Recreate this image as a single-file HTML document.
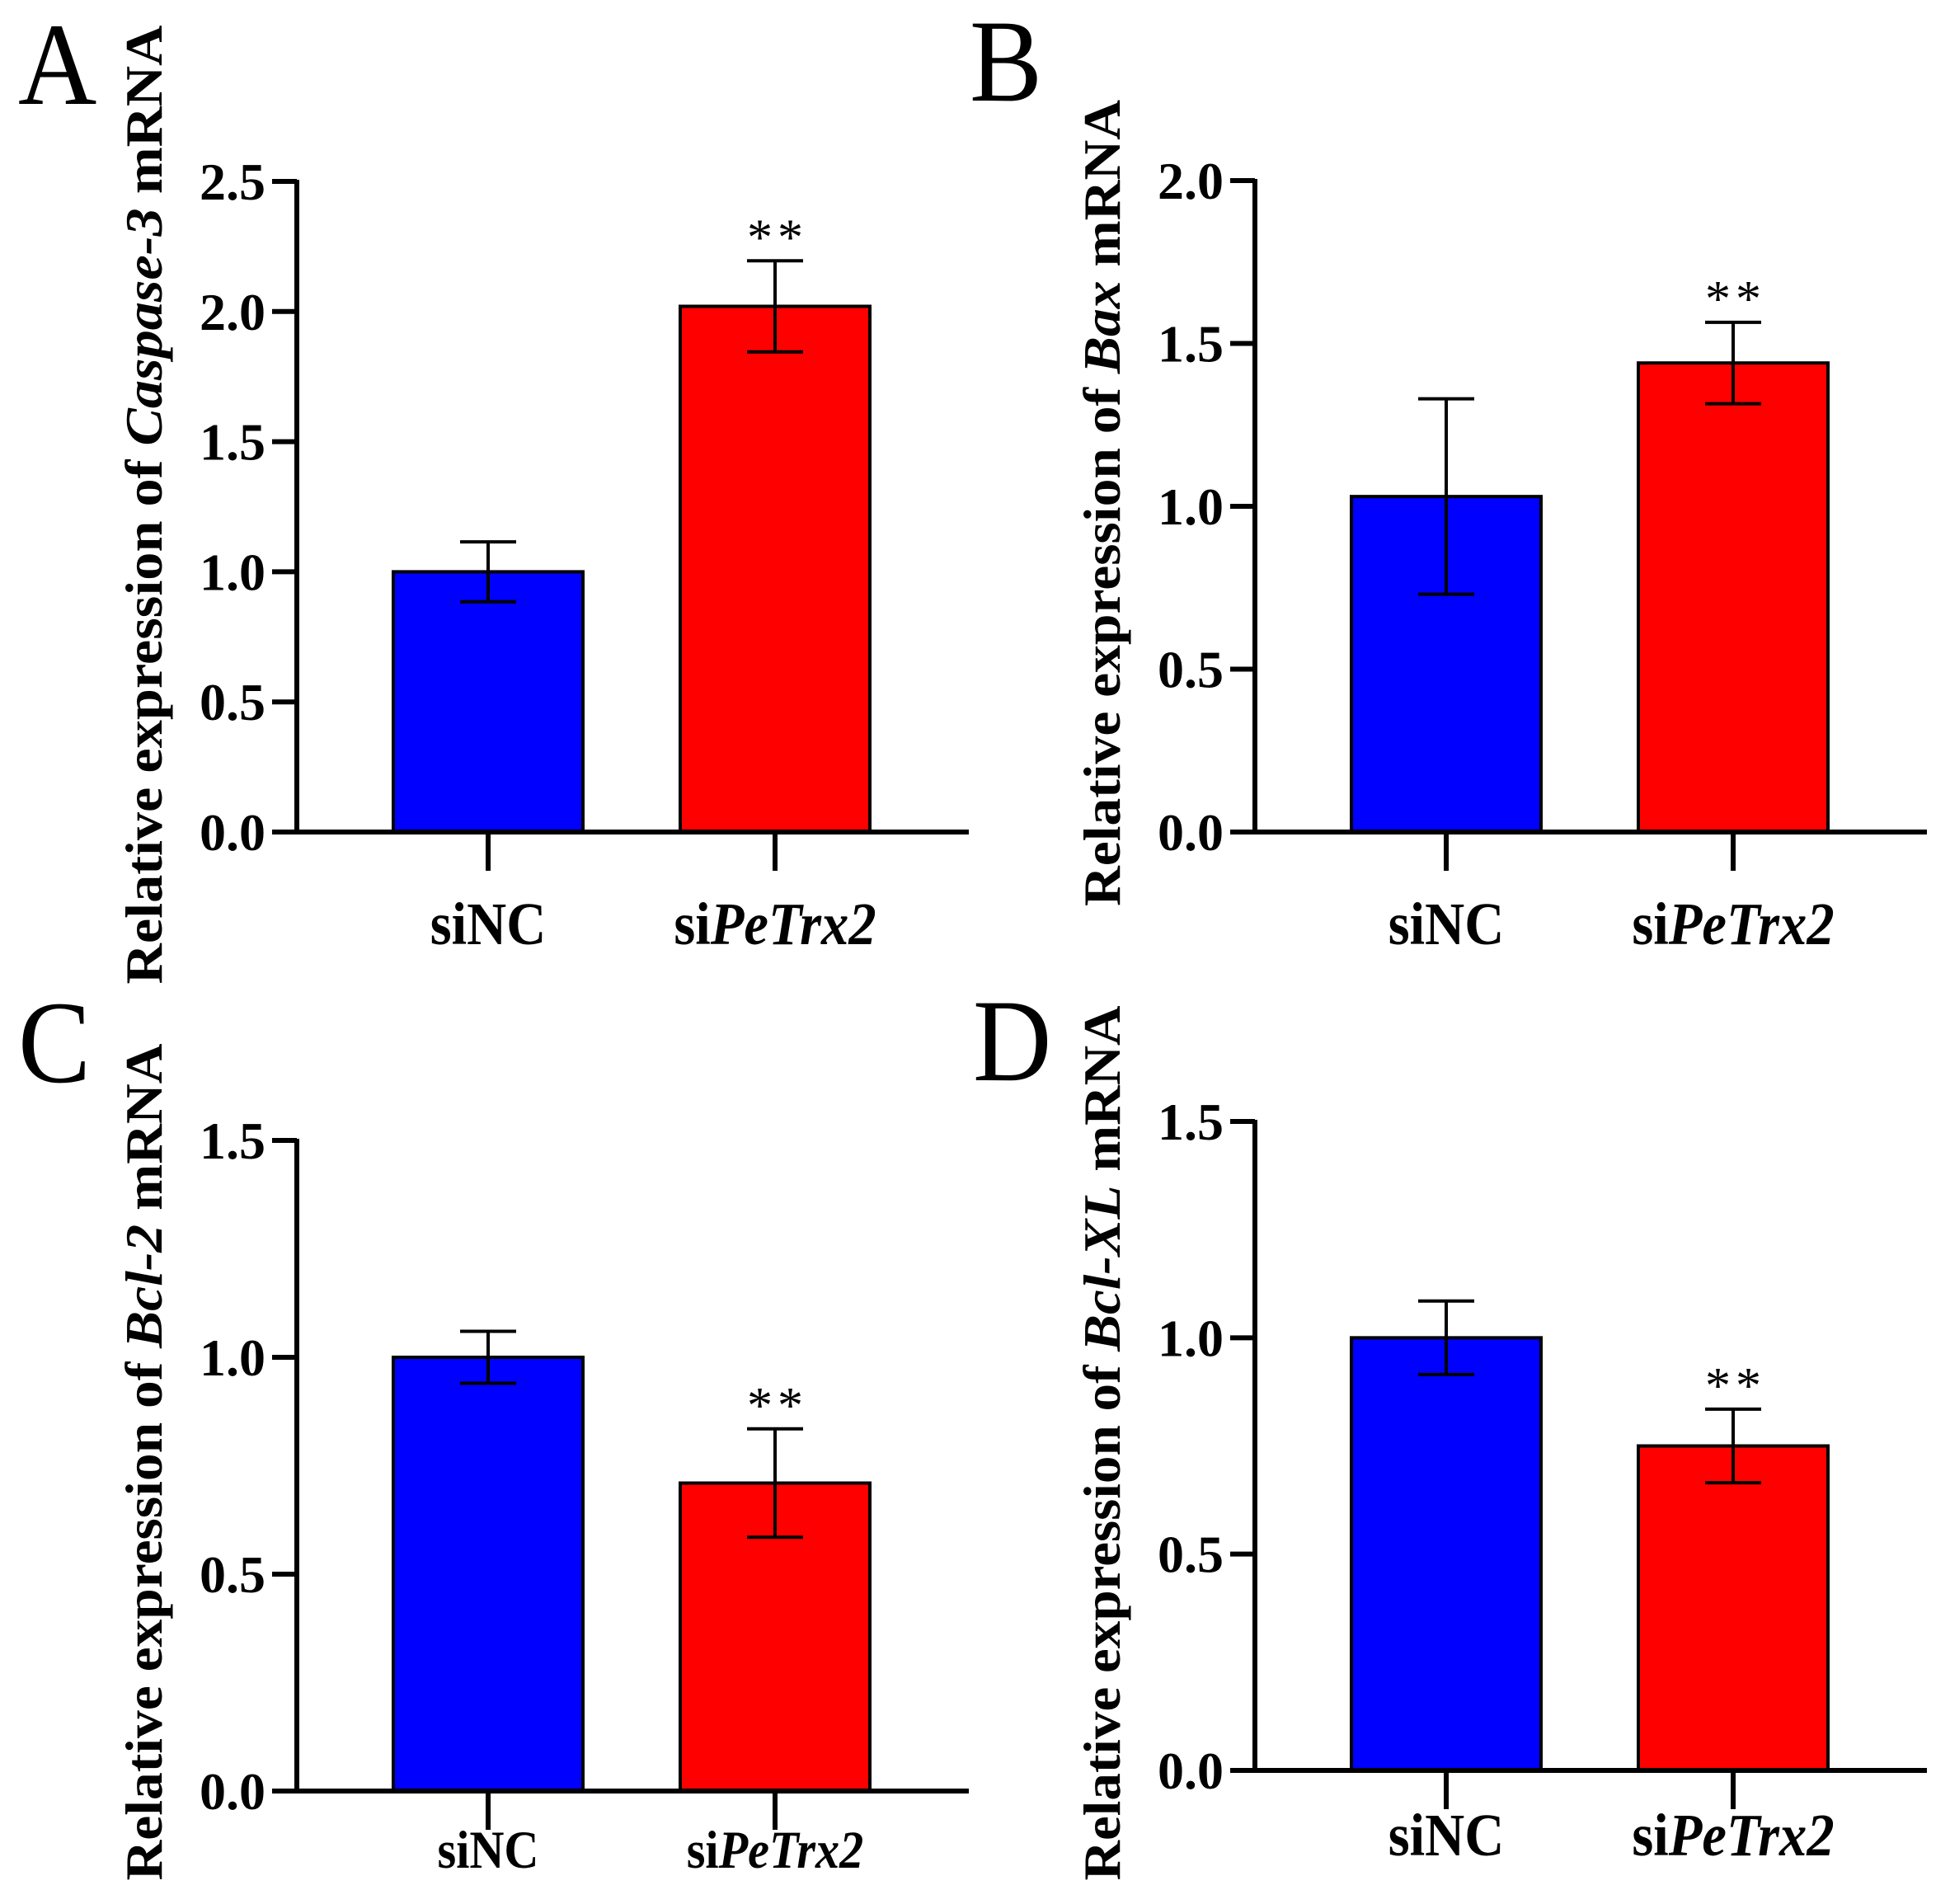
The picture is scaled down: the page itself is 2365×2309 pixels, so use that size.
<!DOCTYPE html>
<html><head><meta charset="utf-8"><style>
html,body{margin:0;padding:0;background:#fff;}
svg{display:block;}
text{font-family:"Liberation Serif",serif;}
</style></head>
<body>
<svg id="fig" width="2365" height="2309" viewBox="0 0 2365 2309" xmlns="http://www.w3.org/2000/svg"></svg>
<script>
// ---- data ----
const categories = ["siNC", "siPeTrx2"];
const panelLetters = ["A", "B", "C", "D"];
const genes = ["Caspase-3", "Bax", "Bcl-2", "Bcl-XL"];
const meanA = [1.00, 2.02];
const errA = [0.115, 0.175];
const meanB = [1.03, 1.44];
const errB = [0.30, 0.125];
const meanC = [1.00, 0.71];
const errC = [0.06, 0.125];
const meanD = [1.00, 0.75];
const errD = [0.085, 0.085];
const ticksA = ["0.0", "0.5", "1.0", "1.5", "2.0", "2.5"];
const ticksB = ["0.0", "0.5", "1.0", "1.5", "2.0"];
const ticksC = ["0.0", "0.5", "1.0", "1.5"];
const ticksD = ["0.0", "0.5", "1.0", "1.5"];
const significance = ["", "**"];

const NS = "http://www.w3.org/2000/svg";
const svg = document.getElementById("fig");
function mk(tag, attrs, parent) {
  const e = document.createElementNS(NS, tag);
  for (const k in attrs) e.setAttribute(k, attrs[k]);
  (parent || svg).appendChild(e);
  return e;
}

const layout = [
  {ax: 360, top: 220, base: 1009, lx: 22, ly: 126, tx: 174, ty: 612, tlen: 1163, xl: 1145, xf: 64},
  {ax: 1522, top: 219, base: 1009, lx: 1176, ly: 122, tx: 1336, ty: 610, tlen: 978, xl: 1145, xf: 64},
  {ax: 360, top: 1383, base: 2172, lx: 22, ly: 1312, tx: 174, ty: 1773, tlen: 1015, xl: 2265, xf: 56},
  {ax: 1522, top: 1360, base: 2147, lx: 1180, ly: 1310, tx: 1336, ty: 1750, tlen: 1061, xl: 2250, xf: 64}
];
const means = [meanA, meanB, meanC, meanD];
const errs = [errA, errB, errC, errD];
const ticks = [ticksA, ticksB, ticksC, ticksD];
const colors = ["#0000ff", "#ff0000"];

for (let p = 0; p < 4; p++) {
  const L = layout[p];
  const tk = ticks[p];
  const maxV = parseFloat(tk[tk.length - 1]);
  const y = v => L.base - (v / maxV) * (L.base - L.top);
  const xc = i => L.ax + 232 + i * 348;
  const g = mk("g", {});
  
  

  const letter = mk("text", {x: L.lx, y: L.ly, "font-size": 132, transform: `translate(${L.lx},${L.ly}) scale(1,1.08) translate(${-L.lx},${-L.ly})`}, g);
  letter.textContent = panelLetters[p];
  
  

  const t = mk("text", {x: 0, y: 0, "font-size": 64, "font-weight": "bold", "text-anchor": "middle",
    textLength: L.tlen, lengthAdjust: "spacingAndGlyphs",
    transform: `translate(${L.tx + 22},${L.ty}) rotate(-90)`}, g);
  
  
  t.appendChild(document.createTextNode("Relative expression of "));
  const it = mk("tspan", {"font-style": "italic"}, t);
  it.textContent = genes[p];
  t.appendChild(document.createTextNode(" mRNA"));

  for (let i = 0; i < 2; i++) {
    const v = means[p][i], e = errs[p][i];
    const r = mk("rect", {x: xc(i) - 115, y: y(v), width: 230, height: L.base - y(v), fill: colors[i], stroke: "#000", "stroke-width": 4}, g);
    
    
    const eb = mk("path", {d: `M${xc(i)},${y(v + e)}V${y(v - e)}M${xc(i) - 34},${y(v + e)}H${xc(i) + 34}M${xc(i) - 34},${y(v - e)}H${xc(i) + 34}`, stroke: "#000", "stroke-width": 4, fill: "none"}, g);
    
    
    if (significance[i]) {
      const s = mk("text", {x: xc(i) + 3, y: y(v + e) - 8, "font-size": 62, "text-anchor": "middle", "letter-spacing": 6}, g);
      s.textContent = significance[i];
      
      
    }
    const xt = mk("line", {x1: xc(i), x2: xc(i), y1: L.base, y2: L.base + 47, stroke: "#000", "stroke-width": 6}, g);
    
    
    const xl = mk("text", {x: 0, y: 0, "font-size": L.xf, "font-weight": "bold", "text-anchor": "middle",
      transform: `translate(${xc(i)},${L.xl}) scale(1.04,1.15)`}, g);
    
    
    if (i === 0) xl.textContent = categories[0];
    else {
      xl.appendChild(document.createTextNode("si"));
      const ts = mk("tspan", {"font-style": "italic"}, xl);
      ts.textContent = "PeTrx2";
    }
  }

  const axis = mk("path", {d: `M${L.ax},${L.top - 2}V${L.base}M${L.ax - 30},${L.base}H${L.ax + 815}`, stroke: "#000", "stroke-width": 6, fill: "none"}, g);
  
  
  for (let k = 0; k < tk.length; k++) {
    const v = parseFloat(tk[k]);
    const ln = mk("line", {x1: L.ax - 30, x2: L.ax, y1: y(v), y2: y(v), stroke: "#000", "stroke-width": 6}, g);
    
    
    const tl = mk("text", {x: L.ax - 38, y: y(v) + 22, "font-size": 64, "font-weight": "bold", "text-anchor": "end"}, g);
    tl.textContent = tk[k];
    
    
  }
}
</script>
</body></html>
